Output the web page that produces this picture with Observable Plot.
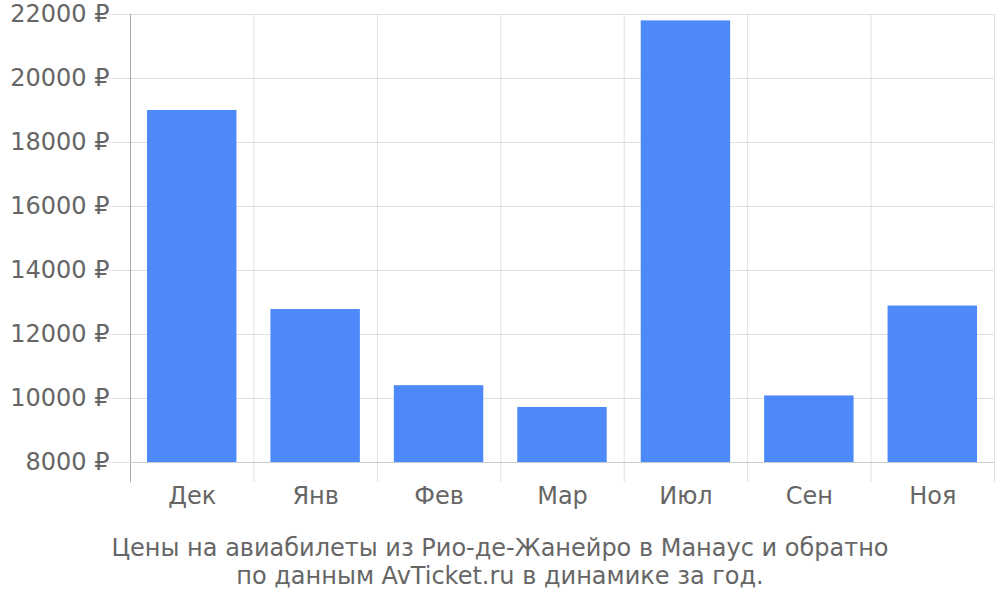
<!DOCTYPE html>
<html>
<head>
<meta charset="utf-8">
<script src="https://cdn.jsdelivr.net/npm/d3@7"></script>
<script src="https://cdn.jsdelivr.net/npm/@observablehq/plot@0.6"></script>
<style>
  html, body { margin: 0; padding: 0; background: #fff; }
  #chart { width: 1000px; }
  #caption { width: 1000px; text-align: center; font-family: "DejaVu Sans", sans-serif; font-size: 24px; line-height: 28px; color: #666; padding-top: 14px; }
</style>
</head>
<body>
<div id="chart"></div>
<div id="caption">Цены на авиабилеты из Рио-де-Жанейро в Манаус и обратно<br>по данным AvTicket.ru в динамике за год.</div>
<script>
const categories = ["Дек", "Янв", "Фев", "Мар", "Июл", "Сен", "Ноя"];
const prices = [19000, 12780, 10400, 9720, 21800, 10080, 12890];
const yTicks = [8000, 10000, 12000, 14000, 16000, 18000, 20000, 22000];

const data = categories.map((c, i) => ({ i, c, price: prices[i] }));
const bounds = d3.range(categories.length + 1);
const centers = categories.map((c, i) => i + 0.5);
const yMin = yTicks[0];

const plot = Plot.plot({
  width: 1000,
  height: 520,
  marginTop: 14,
  marginLeft: 130,
  marginRight: 6,
  marginBottom: 58,
  x: { domain: [0, categories.length], axis: null, label: null },
  y: { domain: [yMin, yTicks[yTicks.length - 1]], axis: null, label: null },
  style: { fontFamily: "DejaVu Sans", fontSize: "24px", color: "#666", background: "#fff" },
  marks: [
    Plot.gridY(yTicks, { stroke: "#e0e0e0", strokeOpacity: 1 }),
    Plot.gridX(bounds, { stroke: "#e0e0e0", strokeOpacity: 1 }),
    Plot.axisY(yTicks, { label: null, tickSize: 20, tickPadding: 1, stroke: "#e0e0e0", strokeOpacity: 1, tickFormat: d => d + " ₽", fill: "#666" }),
    Plot.axisX(bounds.slice(1), { label: null, tickSize: 20, tickFormat: () => "", stroke: "#e0e0e0", strokeOpacity: 1 }),
    Plot.axisX(bounds.slice(0, 1), { label: null, tickSize: 20, tickFormat: () => "", stroke: "#aaa", strokeOpacity: 1 }),
    Plot.axisX(centers, { label: null, tickSize: 0, tickPadding: 24, tickFormat: d => categories[Math.round(d - 0.5)], fill: "#666" }),
    Plot.rectY(data, { x1: "i", x2: d => d.i + 1, y1: () => yMin, y2: "price", fill: "#4d89f9", insetLeft: 17, insetRight: 17 }),
    Plot.ruleX([0], { stroke: "#aaa" }),
    Plot.ruleY([yMin], { stroke: "#ccc" })
  ]
});
document.getElementById("chart").appendChild(plot);
</script>
</body>
</html>
